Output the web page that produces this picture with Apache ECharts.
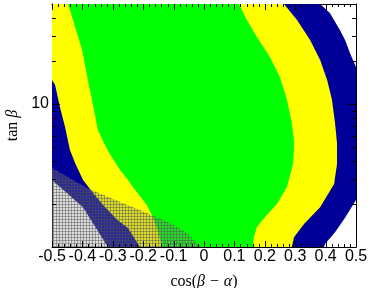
<!DOCTYPE html>
<html><head><meta charset="utf-8">
<script src="https://cdn.jsdelivr.net/npm/echarts@6/dist/echarts.min.js"></script>
<style>html,body{margin:0;padding:0;background:#fff}#c{width:374px;height:288px}</style>
</head><body><div id="c"></div>
<script>
// axis ranges and ticks
const xRange = [-0.5, 0.5];
const yRange = [1, 50];
const xTickValues = [-0.5, -0.4, -0.3, -0.2, -0.1, 0, 0.1, 0.2, 0.3, 0.4, 0.5];
const xTickLabels = ['-0.5', '-0.4', '-0.3', '-0.2', '-0.1', '0', '0.1', '0.2', '0.3', '0.4', '0.5'];
const xMinorPerMajor = 5;
const yMajorTicks = [10];
const yTickLabels = ['10'];
const yMinorTicks = [2, 3, 4, 5, 6, 7, 8, 9, 20, 30, 40];

// region boundaries [cos(beta-alpha), tan beta]
const blueOuterTop = [[0.382, 50], [0.414, 43.3], [0.447, 32.9], [0.464, 28.0], [0.480, 22.7], [0.5, 18.1]];
const blueOuterBottom = [[0.5, 2.13], [0.464, 1.60], [0.431, 1.27], [0.398, 1.05], [0.395, 1.0]];
const blueOuterLeft = [[-0.316, 1.0], [-0.398, 1.90], [-0.451, 2.39], [-0.5, 2.94]];

const yellowLeft = [[-0.5, 14.7], [-0.490, 13.6], [-0.474, 9.53], [-0.457, 6.91], [-0.441, 4.77], [-0.424, 3.87],
  [-0.398, 2.94], [-0.365, 2.39], [-0.332, 1.97], [-0.286, 1.55], [-0.250, 1.36], [-0.211, 1.0]];
const yellowRight = [[0.263, 50], [0.306, 38.7], [0.349, 28.0], [0.382, 20.3], [0.405, 14.7], [0.421, 10.7],
  [0.431, 7.36], [0.4375, 5.34], [0.4375, 3.80], [0.428, 2.76], [0.382, 1.90], [0.329, 1.45], [0.296, 1.17], [0.289, 1.0]];

const greenLeft = [[-0.447, 50], [-0.431, 38.7], [-0.401, 23.9], [-0.382, 14.7], [-0.365, 9.84], [-0.349, 6.58],
  [-0.329, 5.34], [-0.309, 4.45], [-0.276, 3.45], [-0.250, 2.94], [-0.234, 2.63], [-0.188, 1.97], [-0.171, 1.67],
  [-0.158, 1.42], [-0.148, 1.21], [-0.138, 1.0]];
const greenRight = [[0.115, 50], [0.141, 38.7], [0.174, 29.4], [0.217, 21.3], [0.250, 15.4], [0.273, 10.7],
  [0.289, 7.36], [0.296, 5.60], [0.296, 4.77], [0.293, 3.80], [0.273, 2.63], [0.240, 2.00], [0.201, 1.62],
  [0.174, 1.38], [0.164, 1.17], [0.161, 1.0]];

const hatchTop = [[-0.5, 3.57], [-0.385, 2.59], [-0.276, 2.06], [-0.188, 1.73], [-0.112, 1.47], [-0.056, 1.25],
  [-0.030, 1.10], [-0.013, 1.0]];

// polygons assembled from boundaries and the frame corners
const [x0, x1] = xRange, [y0, y1] = yRange;
const bluePoly = [[x0, y1]].concat(blueOuterTop, blueOuterBottom, blueOuterLeft);
const yellowPoly = [[x0, y1]].concat(yellowRight, yellowLeft.slice().reverse());
const greenPoly = greenLeft.concat(greenRight.slice().reverse());
const hatchPoly = hatchTop.concat([[x0, y0]]);

// minor x tick values between the labelled ones
const xMinorTicks = [];
for (let i = 0; i < xTickValues.length - 1; i++) {
  for (let k = 1; k < xMinorPerMajor; k++) {
    xMinorTicks.push(xTickValues[i] + (xTickValues[i + 1] - xTickValues[i]) * k / xMinorPerMajor);
  }
}
// tick items: [x, y, length, side]  side 0 bottom, 1 top, 2 left, 3 right
const tickItems = [];
xTickValues.forEach(v => { tickItems.push([v, y0, 6, 0]); tickItems.push([v, y1, 6, 1]); });
xMinorTicks.forEach(v => { tickItems.push([v, y0, 3, 0]); tickItems.push([v, y1, 3, 1]); });
yMajorTicks.forEach(v => { tickItems.push([x0, v, 8, 2]); tickItems.push([x1, v, 8, 3]); });
yMinorTicks.forEach(v => { tickItems.push([x0, v, 4, 2]); tickItems.push([x1, v, 4, 3]); });

function region(poly, fill) {
  return {
    type: 'custom', coordinateSystem: 'cartesian2d', xAxisIndex: 0, yAxisIndex: 0,
    clip: true, silent: true, data: [[0, 10]],
    renderItem: function (params, api) {
      return { type: 'polygon', shape: { points: poly.map(p => api.coord(p)) }, style: { fill: fill } };
    }
  };
}

// cross-hatch lines inside the hatched region (bounded by the frame and hatchTop)
const hatchLines = {
  type: 'custom', coordinateSystem: 'cartesian2d', xAxisIndex: 0, yAxisIndex: 0,
  clip: true, silent: true, data: [[0, 10]],
  renderItem: function (params, api) {
    const pts = hatchTop.map(p => api.coord(p));
    const L = Math.round(api.coord([x0, y0])[0]), B = Math.round(api.coord([x0, y0])[1]);
    const xAt = y => {
      for (let i = 0; i < pts.length - 1; i++) {
        const a = pts[i], b = pts[i + 1];
        if (y >= a[1] && y <= b[1]) return a[0] + (b[0] - a[0]) * (y - a[1]) / ((b[1] - a[1]) || 1);
      }
      return pts[pts.length - 1][0];
    };
    const yAt = x => {
      for (let i = 0; i < pts.length - 1; i++) {
        const a = pts[i], b = pts[i + 1];
        if (x >= a[0] && x <= b[0]) return a[1] + (b[1] - a[1]) * (x - a[0]) / ((b[0] - a[0]) || 1);
      }
      return B;
    };
    const ch = [];
    const st = 'rgba(80,80,80,0.45)';
    for (let y = Math.ceil(pts[0][1]); y < B; y += 3) {
      const xe = xAt(y + 0.5);
      if (xe > L) ch.push({ type: 'polygon', shape: { points: [[L, y], [xe, y], [xe, y + 1], [L, y + 1]] }, style: { fill: st } });
    }
    const xEnd = pts[pts.length - 1][0];
    for (let x = L + 1; x < xEnd; x += 3) {
      const ys = yAt(x + 0.5);
      if (ys < B) ch.push({ type: 'polygon', shape: { points: [[x, ys], [x + 1, ys], [x + 1, B], [x, B]] }, style: { fill: st } });
    }
    return { type: 'group', children: ch };
  }
};

// ticks drawn on top of the filled regions, on all four frame sides
const tickSeries = {
  type: 'custom', coordinateSystem: 'cartesian2d', xAxisIndex: 0, yAxisIndex: 0,
  silent: true, clip: false, dimensions: ['x', 'y', 'len', 'side'],
  encode: { x: 0, y: 1 },
  data: tickItems,
  renderItem: function (params, api) {
    const p = api.coord([api.value(0), api.value(1)]);
    const len = api.value(2), side = api.value(3);
    const x = Math.round(p[0]), y = Math.round(p[1]);
    let pts;
    if (side === 0) pts = [[x, y - len], [x + 1, y - len], [x + 1, y], [x, y]];
    else if (side === 1) pts = [[x, y], [x + 1, y], [x + 1, y + len], [x, y + len]];
    else if (side === 2) pts = [[x, y], [x + len, y], [x + len, y + 1], [x, y + 1]];
    else pts = [[x - len, y], [x, y], [x, y + 1], [x - len, y + 1]];
    return { type: 'polygon', shape: { points: pts }, style: { fill: '#000' } };
  }
};

const serif = 'Liberation Serif';
const lineStyle = { color: '#000', width: 1 };

const chart = echarts.init(document.getElementById('c'), null, { renderer: 'canvas' });
chart.setOption({
  animation: false,
  backgroundColor: '#fff',
  grid: { left: 52, right: 18, top: 4, bottom: 41, containLabel: false, outerBoundsMode: 'none' },
  xAxis: [{
    type: 'value', min: x0, max: x1, interval: 0.1, position: 'bottom',
    axisLine: { show: true, onZero: false, lineStyle: lineStyle },
    axisTick: { show: false }, minorTick: { show: false },
    axisLabel: { formatter: v => { const i = xTickValues.findIndex(t => Math.abs(t - v) < 1e-6); return i >= 0 ? xTickLabels[i] : ''; }, fontFamily: 'Liberation Sans', fontSize: 16, color: '#000', margin: 2, showMinLabel: true, showMaxLabel: true, hideOverlap: false },
    splitLine: { show: false }, minorSplitLine: { show: false },
    name: '{n|cos(}{i|β − α}{n|)}', nameLocation: 'middle', nameGap: 27,
    nameTextStyle: { rich: { n: { fontFamily: serif, fontSize: 16, color: '#000' }, i: { fontFamily: serif, fontStyle: 'italic', fontSize: 16, color: '#000' } } }
  }, {
    type: 'value', min: x0, max: x1, interval: 0.1, position: 'top',
    axisLine: { show: true, onZero: false, lineStyle: lineStyle },
    axisTick: { show: false }, axisLabel: { show: false }, splitLine: { show: false }
  }],
  yAxis: [{
    type: 'log', logBase: 10, min: y0, max: y1, position: 'left',
    axisLine: { show: true, onZero: false, lineStyle: lineStyle },
    axisTick: { show: false }, minorTick: { show: false }, splitLine: { show: false },
    axisLabel: { show: true, customValues: yMajorTicks, formatter: v => yTickLabels[yMajorTicks.indexOf(Math.round(v))] || '', fontFamily: 'Liberation Sans', fontSize: 16, color: '#000', margin: 3 },
    name: '{n|tan}{i| β}', nameLocation: 'middle', nameGap: 30, nameRotate: 90,
    nameTextStyle: { rich: { n: { fontFamily: serif, fontSize: 16, color: '#000' }, i: { fontFamily: serif, fontStyle: 'italic', fontSize: 16, color: '#000' } } }
  }, {
    type: 'log', logBase: 10, min: y0, max: y1, position: 'right',
    axisLine: { show: true, onZero: false, lineStyle: lineStyle },
    axisTick: { show: false }, axisLabel: { show: false }, splitLine: { show: false }
  }],
  series: [
    region(bluePoly, '#000099'),
    region(yellowPoly, '#ffff00'),
    region(greenPoly, '#00ff00'),
    region(hatchPoly, 'rgba(140,140,140,0.3)'),
    hatchLines,
    tickSeries
  ]
});
</script></body></html>
